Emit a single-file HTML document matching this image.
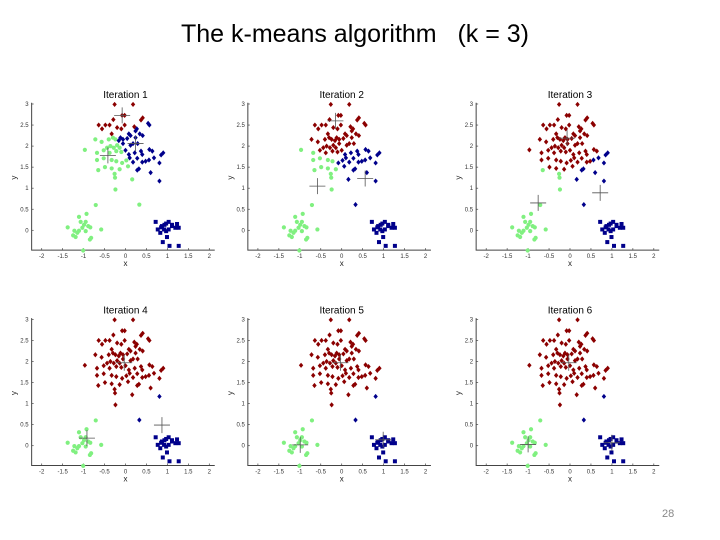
<!DOCTYPE html>
<html><head><meta charset="utf-8"><style>
html,body{margin:0;padding:0;background:#fff;}
#wrap{position:relative;width:720px;height:540px;overflow:hidden;font-family:"Liberation Sans",sans-serif;}
#title{position:absolute;left:0;width:710px;top:20px;text-align:center;font-size:25px;color:#000;white-space:pre;}
#pnum{position:absolute;left:662px;top:508px;font-size:11px;color:#888;}
</style></head><body>
<div id="wrap">
<div id="title">The k-means algorithm   (k = 3)</div>
<svg id="chart" width="720" height="540" style="position:absolute;left:0;top:0"></svg>
<div id="pnum">28</div>
</div>
<script>
const pointsX = [-0.26,0.18,-0.08,-0.02,0.41,0.37,-0.29,-0.64,-0.48,-0.56,-0.38,-0.2,-0.1,-0.02,0.21,0.27,0.54,0.57,-0.33,-0.3,-0.12,0.08,0.12,0.24,0.34,-0.72,-0.57,-0.4,-0.24,-0.16,-0.06,0.04,0.24,0.41,-0.36,-0.28,-0.2,-0.14,-0.06,0.12,0.18,0.29,-0.97,-0.68,-0.52,-0.44,-0.38,-0.22,-0.1,0.0,0.08,0.22,0.37,0.57,0.64,0.4,0.9,0.85,-0.68,-0.52,-0.33,-0.22,-0.08,0.02,0.1,0.18,0.28,0.4,0.48,0.56,0.68,0.81,-0.65,-0.49,-0.33,-0.14,0.06,0.28,0.32,0.6,-0.26,-0.25,0.16,-0.24,0.81,0.33,-0.71,
-0.93,-1.11,-1.38,-1.22,-1.07,-0.95,-0.84,-0.58,-1.03,-1.11,-1.15,-1.25,-1.19,-0.95,-0.82,-0.85,-1.01,-0.99,-0.89,
0.72,0.77,0.85,0.93,1.03,0.97,1.11,1.23,1.19,1.27,0.92,0.97,1.03,0.83,0.99,0.89,1.05,1.27,1.11,0.87];
const pointsY = [2.99,2.99,2.73,2.73,2.67,2.62,2.63,2.5,2.5,2.41,2.5,2.44,2.41,2.5,2.46,2.41,2.54,2.5,2.29,2.2,2.2,2.29,2.25,2.36,2.29,2.16,2.1,2.16,2.16,2.13,2.16,2.18,2.2,2.25,2.0,1.96,2.02,1.96,2.06,2.02,2.06,2.06,1.91,1.84,1.9,1.96,1.84,1.88,1.86,1.9,1.8,1.84,1.88,1.92,1.88,1.8,1.84,1.79,1.67,1.71,1.67,1.64,1.6,1.66,1.72,1.62,1.71,1.62,1.64,1.67,1.72,1.6,1.43,1.5,1.47,1.45,1.52,1.43,1.46,1.37,1.34,1.25,1.21,0.97,1.17,0.61,0.6,
0.39,0.32,0.07,-0.01,0.2,0.2,0.07,0.02,0.06,-0.01,-0.06,-0.12,-0.16,-0.02,-0.18,-0.22,-0.48,0.13,0.1,
0.2,0.02,0.07,0.13,0.2,0.16,0.1,0.15,0.06,0.06,0.02,-0.02,0.02,-0.06,-0.16,-0.28,-0.37,-0.37,0.13,0.1];
// centroids per iteration: [green, blue, red]
const centX = [[-0.42,0.24,-0.08],[-0.58,0.56,-0.15],[-0.76,0.72,-0.07],[-0.92,0.87,-0.03],[-0.99,0.99,-0.03],[-1.0,1.0,-0.03]];
const centY = [[1.78,2.06,2.73],[1.05,1.23,2.6],[0.65,0.89,2.19],[0.18,0.49,1.97],[0.02,0.14,1.97],[0.03,0.07,1.97]];
const xTicks = [-2,-1.5,-1,-0.5,0,0.5,1,1.5,2];
const yTicks = [0,0.5,1,1.5,2,2.5,3];
const titles = ["Iteration 1","Iteration 2","Iteration 3","Iteration 4","Iteration 5","Iteration 6"];

const NS="http://www.w3.org/2000/svg";
const svg=document.getElementById('chart');
const colX0=[125.5,341.7,570], rowY0=[230.3,445.7], UX=41.9, UY=42.1;
const colors=['#80f080','#00008b','#8b0000'];
function mk(tag,attrs,parent){const e=document.createElementNS(NS,tag);for(const k in attrs)e.setAttribute(k,attrs[k]);(parent||svg).appendChild(e);return e;}

titles.forEach((t,i)=>{
  const cx0=colX0[i%3], cy0=rowY0[Math.floor(i/3)];
  const sx=v=>cx0+v*UX, sy=v=>cy0-v*UY;
  const g=mk('g',{});
  
  
  const ax=mk('path',{d:`M${sx(-2.24)},${sy(3.03)}V${sy(-0.47)}H${sx(2.13)}`,stroke:'#444',fill:'none','stroke-width':1},g);
  
  
  xTicks.forEach(v=>{
    mk('line',{x1:sx(v),x2:sx(v),y1:sy(-0.47),y2:sy(-0.47)-2,stroke:'#444','stroke-width':0.7},g);
    const tx=mk('text',{x:sx(v),y:sy(-0.47)+8,'font-size':6,'text-anchor':'middle',fill:'#333'},g);
    tx.textContent=v;
    
    
  });
  yTicks.forEach(v=>{
    mk('line',{x1:sx(-2.24),x2:sx(-2.24)+2,y1:sy(v),y2:sy(v),stroke:'#444','stroke-width':0.7},g);
    const ty=mk('text',{x:sx(-2.24)-3,y:sy(v)+2,'font-size':6,'text-anchor':'end',fill:'#333'},g);
    ty.textContent=v;
    
    
  });
  const xl=mk('text',{x:sx(0),y:sy(-0.47)+16,'font-size':8,'text-anchor':'middle',fill:'#222'},g);
  xl.textContent='x';
  
  
  const yl=mk('text',{x:0,y:0,'font-size':8,'text-anchor':'middle',fill:'#222',transform:`translate(${sx(-2.24)-15},${sy(1.25)}) rotate(-90)`},g);
  yl.textContent='y';
  
  
  const tt=mk('text',{x:sx(0),y:sy(3)-6,'font-size':10,'text-anchor':'middle',fill:'#000'},g);
  tt.textContent=t;
  
  
  pointsX.forEach((px,j)=>{
    const py=pointsY[j];
    let best=0,bd=1e9;
    for(let c=0;c<3;c++){const d=(px-centX[i][c])**2+(py-centY[i][c])**2;if(d<bd){bd=d;best=c;}}
    const X=sx(px),Y=sy(py),col=colors[best];
    let m;
    if(best===0) m=mk('circle',{cx:X,cy:Y,r:2.1,fill:col},g);
    else if(best===1&&py<0.5) m=mk('rect',{x:X-2,y:Y-2,width:4,height:4,fill:col},g);
    else m=mk('path',{d:`M${X},${Y-2.6}L${X+2.2},${Y}L${X},${Y+2.6}L${X-2.2},${Y}Z`,fill:col},g);
    
    
  });
  for(let c=0;c<3;c++){
    const X=sx(centX[i][c]),Y=sy(centY[i][c]);
    const cr=mk('path',{d:`M${X-8},${Y}H${X+8}M${X},${Y-8}V${Y+8}`,stroke:'#555','stroke-width':0.8,fill:'none'},g);
    
    
  }
});
</script>
</body></html>
